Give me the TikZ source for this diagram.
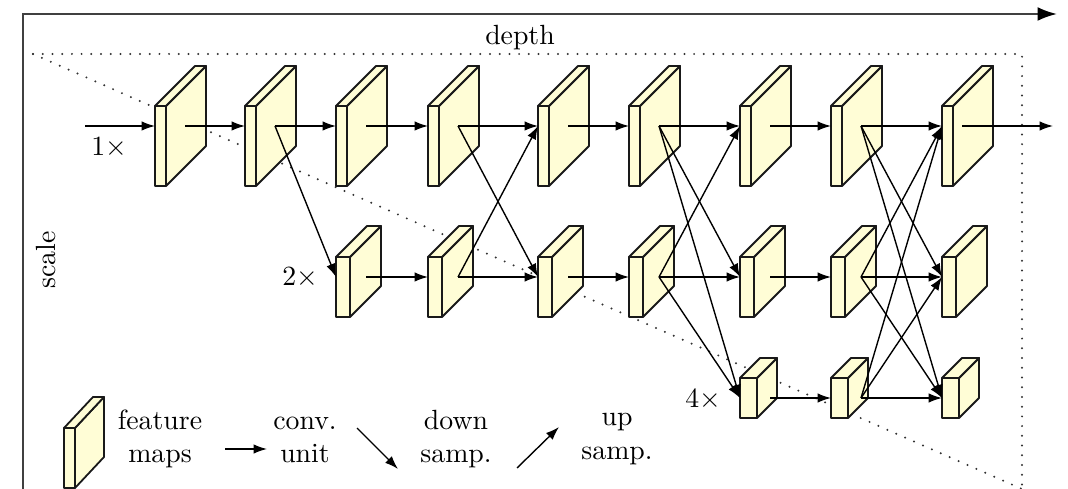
\documentclass[tikz,border=0pt]{standalone}
\usetikzlibrary{arrows.meta}
\definecolor{fmfill}{RGB}{255,253,214}
\newcommand\FMap[8]{%
  \path[fm] ({#2+#4},#3) -- ({#2+#4},{#3+#5}) -- ({#2+#4+#6},{#3+#5+#7}) -- ({#2+#4+#6},{#3+#7}) -- cycle;
  \path[fm] (#2,#3) -- ({#2+#4},#3) -- ({#2+#4+#6},{#3+#7}) -- ({#2+#6},{#3+#7}) -- cycle;
  \path[fm] (#2,#3) rectangle ({#2+#4},{#3+#5});
  \coordinate (#1-in) at (#2,#8);
  \coordinate (#1-out) at ({#2+30},#8);
}
\newcommand\RowA[2]{\FMap{#1}{#2}{106}{11}{80}{40}{-40}{126}}
\newcommand\RowB[2]{\FMap{#1}{#2}{257}{14}{60}{31}{-31}{277}}
\newcommand\RowC[2]{\FMap{#1}{#2}{378}{17}{40}{20}{-20}{398}}
\begin{document}
\begin{tikzpicture}[x=0.36pt,y=-0.36pt,
  fm/.style={draw=black!90,fill=fmfill,line width=0.65pt,line join=round},
  conn/.style={draw=black,line width=0.5pt,-{Latex[length=4.8pt,width=3.4pt]}},
  axis/.style={draw=black!75,line width=0.8pt,-{Latex[length=7pt,width=5pt,fill=black,color=black]}},
  guide/.style={draw=black!80,line width=0.8pt,line cap=round,dash pattern=on 0pt off 3.5pt},
  lbl/.style={inner sep=0pt}]
\useasboundingbox (0,0) rectangle (1068,489);
% axes
\coordinate (axb) at (23,489);
\coordinate (axc) at (23,14);
\coordinate (axe) at (1057,14);
\draw[axis] (axb) -- (axc) -- (axe);
% dotted triangle
\coordinate (ta) at (33,54);
\coordinate (tb) at (1022,54);
\coordinate (tc) at (1022,489);
\draw[guide] (ta) -- (tb) -- (tc);
\draw[guide] (ta) -- (tc);
% feature maps
\RowA{r1c1}{155}\RowA{r1c2}{245}\RowA{r1c3}{336}\RowA{r1c4}{428}\RowA{r1c5}{538}
\RowA{r1c6}{629}\RowA{r1c7}{740}\RowA{r1c8}{831}\RowA{r1c9}{942}
\RowB{r2c3}{336}\RowB{r2c4}{428}\RowB{r2c5}{538}\RowB{r2c6}{629}
\RowB{r2c7}{740}\RowB{r2c8}{831}\RowB{r2c9}{942}
\RowC{r3c7}{740}\RowC{r3c8}{831}\RowC{r3c9}{942}
% input / output
\coordinate (inbeg) at (85,126);
\coordinate (outbeg) at (962,126);
\coordinate (outend) at (1053,126);
\draw[conn] (inbeg) -- (r1c1-in);
\draw[conn] (outbeg) -- (outend);
% row 1
\foreach \a/\b in {1/2,2/3,3/4,4/5,5/6,6/7,7/8,8/9}
  \draw[conn] (r1c\a-out) -- (r1c\b-in);
% row 2
\foreach \a/\b in {3/4,4/5,5/6,6/7,7/8,8/9}
  \draw[conn] (r2c\a-out) -- (r2c\b-in);
% row 3
\foreach \a/\b in {7/8,8/9}
  \draw[conn] (r3c\a-out) -- (r3c\b-in);
% cross connections
\draw[conn] (r1c2-out) -- (r2c3-in);
\draw[conn] (r2c4-out) -- (r1c5-in);
\draw[conn] (r1c4-out) -- (r2c5-in);
\draw[conn] (r1c6-out) -- (r2c7-in);
\draw[conn] (r1c6-out) -- (r3c7-in);
\draw[conn] (r2c6-out) -- (r1c7-in);
\draw[conn] (r2c6-out) -- (r3c7-in);
\draw[conn] (r1c8-out) -- (r2c9-in);
\draw[conn] (r1c8-out) -- (r3c9-in);
\draw[conn] (r2c8-out) -- (r1c9-in);
\draw[conn] (r2c8-out) -- (r3c9-in);
\draw[conn] (r3c8-out) -- (r1c9-in);
\draw[conn] (r3c8-out) -- (r2c9-in);
% labels
\node[lbl] (depthlbl) at (520,38) {depth};
\node[lbl,rotate=90] (scalelbl) at (46,260) {scale};
\node[lbl] (s1) at (109,148) {$1\times$};
\node[lbl] (s2) at (300,278) {$2\times$};
\node[lbl] (s4) at (703,400) {$4\times$};
% legend
\FMap{leg}{64}{428}{11}{60}{29}{-31}{458}
\node[lbl,align=center] (legfm) at (160,439) {feature\\maps};
\node[lbl,align=center] (legconv) at (305,440) {conv.\\unit};
\node[lbl,align=center] (legdown) at (456,439) {down\\samp.};
\node[lbl,align=center] (legup) at (617,439) {up\\samp.};
\coordinate (lca) at (225,449);
\coordinate (lcb) at (267,449);
\coordinate (lda) at (357,428);
\coordinate (ldb) at (398,469);
\coordinate (lua) at (517,468);
\coordinate (lub) at (559,427);
\draw[conn] (lca) -- (lcb);
\draw[conn] (lda) -- (ldb);
\draw[conn] (lua) -- (lub);
\end{tikzpicture}
\end{document}
